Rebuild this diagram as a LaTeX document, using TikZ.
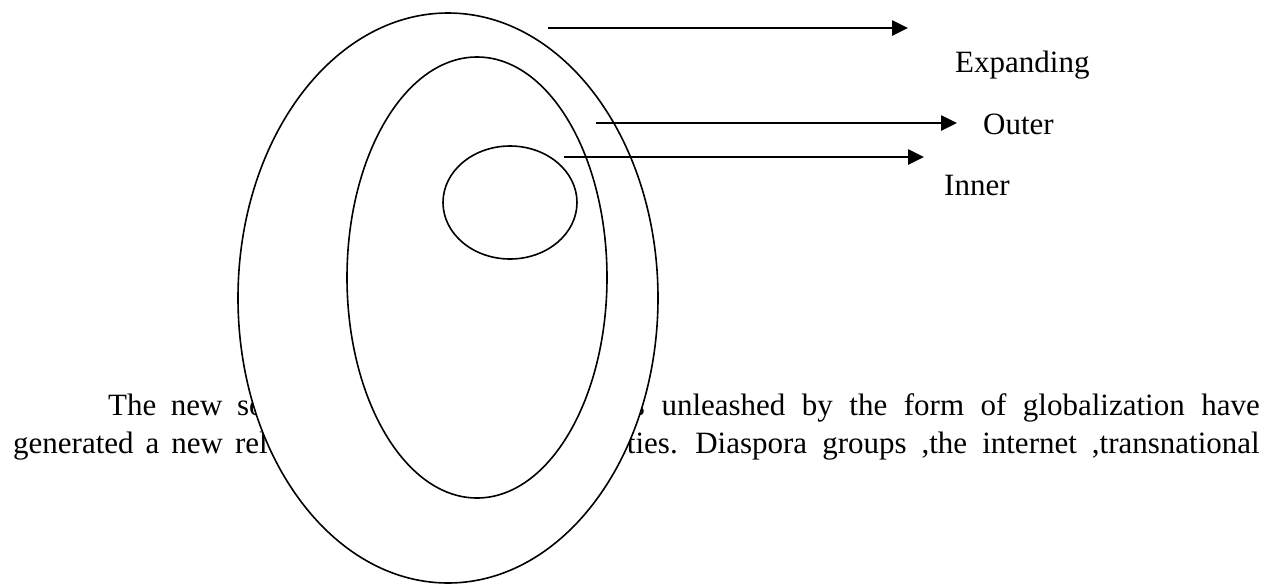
\documentclass[tikz,border=0pt]{standalone}
\usepackage{fontspec}
\setmainfont{Liberation Serif}
\usetikzlibrary{shapes.geometric,arrows.meta}
\begin{document}
\begin{tikzpicture}[x=1pt,y=-1pt,
  ring/.style={ellipse, draw, line width=1.6pt, fill=white, inner sep=0pt, outer sep=0pt},
  lbl/.style={font=\fontsize{31}{38}\selectfont, inner sep=0pt, anchor=base west},
  arr/.style={line width=2.6pt, -{Triangle[length=16pt,width=15pt]}}]
\useasboundingbox (0,0) rectangle (1270,584);
% paragraph text behind the rings
\node[lbl] (p1a) at (108,415) {\spaceskip=14.5pt\relax The new so};
\node[lbl, anchor=base east] (p1b) at (1260,415) {\spaceskip=16.5pt\relax s unleashed by the form of globalization have};
\node[lbl] (p2a) at (13,453) {\spaceskip=12pt\relax generated a new rel};
\node[lbl, anchor=base east] (p2b) at (1260,453) {\spaceskip=15pt\relax ties. Diaspora groups ,the internet ,transnational};
% rings
\node[ring, minimum width=420pt, minimum height=570pt] (expanding) at (448,298) {};
\node[ring, minimum width=260pt, minimum height=441pt] (outer) at (477,277.5) {};
\node[ring, minimum width=134pt, minimum height=113pt] (inner) at (510,202.5) {};
% arrows
\coordinate (a1s) at (548,28);  \coordinate (a1e) at (908,28);
\coordinate (a2s) at (596,123); \coordinate (a2e) at (957,123);
\coordinate (a3s) at (564,157); \coordinate (a3e) at (924,157);
\draw[arr] (a1s) -- (a1e);
\draw[arr] (a2s) -- (a2e);
\draw[arr] (a3s) -- (a3e);
% labels
\node[lbl] (lexp) at (955,72) {Expanding};
\node[lbl] (lout) at (983,134) {Outer};
\node[lbl] (linn) at (944,195) {Inner};
\end{tikzpicture}
\end{document}
